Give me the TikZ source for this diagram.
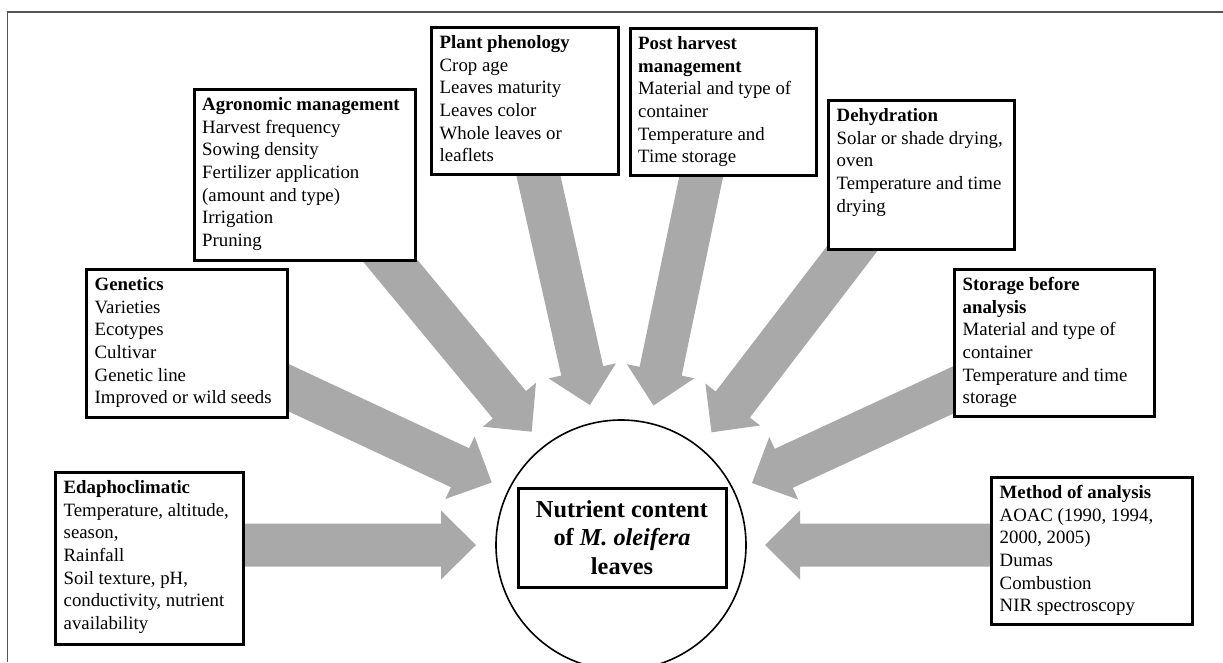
\documentclass[tikz,border=0pt]{standalone}
\usepackage{fontspec}
\setmainfont{Liberation Serif}
\usetikzlibrary{calc}
\definecolor{arrowfill}{RGB}{169,169,169}
\definecolor{framec}{RGB}{85,85,85}
\tikzset{
  fbox/.style={draw=black, line width=3pt, fill=white, inner sep=0pt, anchor=north west},
  txt/.style={inner sep=0pt, align=left, anchor=north west, font=\fontsize{18.8pt}{22.6pt}\selectfont},
  arrowshape/.style={fill=arrowfill, draw=none}
}
\newcommand\blockarrow[2]{%
  \coordinate (ab) at ($(#2)!35pt!(#1)$);
  \fill[arrowshape] ($(#1)!21.5pt!90:(#2)$) -- ($(ab)!21.5pt!90:(#2)$) -- ($(ab)!34.5pt!90:(#2)$) -- (#2)
    -- ($(ab)!34.5pt!-90:(#2)$) -- ($(ab)!21.5pt!-90:(#2)$) -- ($(#1)!21.5pt!-90:(#2)$) -- cycle;}
\newcommand\fs{\rule{0pt}{14pt}}
\begin{document}
\begin{tikzpicture}[x=1pt,y=-1pt]
\useasboundingbox (0,0) rectangle (1223,662);
% frame
\draw[framec, line width=1.5pt] (7.5,662) -- (7.5,12) -- (1223,12);

% arrow tails and tips
\coordinate (tA) at (230,545);     \coordinate (pA) at (476,545);
\coordinate (tB) at (276,381.8);   \coordinate (pB) at (491.7,482.5);
\coordinate (tC) at (364.8,230);   \coordinate (pC) at (531.7,431.7);
\coordinate (tD) at (530.4,140);   \coordinate (pD) at (589.9,405);
\coordinate (tE) at (708.8,140);   \coordinate (pE) at (653.5,405.5);
\coordinate (tF) at (877.9,215);   \coordinate (pF) at (711.5,432.3);
\coordinate (tG) at (985,375.2);   \coordinate (pG) at (752,483);
\coordinate (tH) at (1000,545);    \coordinate (pH) at (765,545);

\blockarrow{tA}{pA}
\blockarrow{tB}{pB}
\blockarrow{tC}{pC}
\blockarrow{tD}{pD}
\blockarrow{tE}{pE}
\blockarrow{tF}{pF}
\blockarrow{tG}{pG}
\blockarrow{tH}{pH}

% boxes
\node[fbox, minimum width=187pt, minimum height=147pt] (plant) at (430,26) {};
\node[fbox, minimum width=186pt, minimum height=147pt] (post) at (628.5,27) {};
\node[fbox, minimum width=186pt, minimum height=149pt] (dehy) at (827,99) {};
\node[fbox, minimum width=200pt, minimum height=147pt] (stor) at (953,268) {};
\node[fbox, minimum width=201pt, minimum height=147pt] (meth) at (990,476) {};
\node[fbox, minimum width=221.5pt, minimum height=171pt] (agro) at (192.5,88) {};
\node[fbox, minimum width=201pt, minimum height=148pt] (gene) at (85,268) {};
\node[fbox, minimum width=188pt, minimum height=172pt] (edaph) at (54,471) {};

% texts
\node[txt] (plantt) at ($(plant.north west)+(9.5,8.5)$) {\fs\textbf{Plant phenology}\\Crop age\\Leaves maturity\\Leaves color\\Whole leaves or\\leaflets};
\node[txt] (postt) at ($(post.north west)+(9.5,8.5)$) {\fs\textbf{Post harvest}\\\textbf{management}\\Material and type of\\container\\Temperature and\\Time storage};
\node[txt] (dehyt) at ($(dehy.north west)+(9.5,8.5)$) {\fs\textbf{Dehydration}\\Solar or shade drying,\\oven\\Temperature and time\\drying};
\node[txt] (stort) at ($(stor.north west)+(9.5,8.5)$) {\fs\textbf{Storage before}\\\textbf{analysis}\\Material and type of\\container\\Temperature and time\\storage};
\node[txt] (metht) at ($(meth.north west)+(9.5,8.5)$) {\fs\textbf{Method of analysis}\\AOAC (1990, 1994,\\2000, 2005)\\Dumas\\Combustion\\NIR spectroscopy};
\node[txt] (agrot) at ($(agro.north west)+(9.5,8.5)$) {\fs\textbf{Agronomic management}\\Harvest frequency\\Sowing density\\Fertilizer application\\(amount and type)\\Irrigation\\Pruning};
\node[txt] (genet) at ($(gene.north west)+(9.5,8.5)$) {\fs\textbf{Genetics}\\Varieties\\Ecotypes\\Cultivar\\Genetic line\\Improved or wild seeds};
\node[txt] (edapht) at ($(edaph.north west)+(9.5,8.5)$) {\fs\textbf{Edaphoclimatic}\\Temperature, altitude,\\season,\\Rainfall\\Soil texture, pH,\\conductivity, nutrient\\availability};

% center
\node[draw=black, line width=1.6pt, circle, minimum size=250pt, inner sep=0pt] (circ) at (621,545) {};
\node[draw=black, line width=3pt, fill=white, minimum width=208pt, minimum height=99pt, inner sep=0pt, align=center,
  font=\fontsize{24.3pt}{28.5pt}\selectfont\bfseries] (core) at (622,537.5) {Nutrient content\\of \textit{M. oleifera}\\leaves};
\end{tikzpicture}
\end{document}
